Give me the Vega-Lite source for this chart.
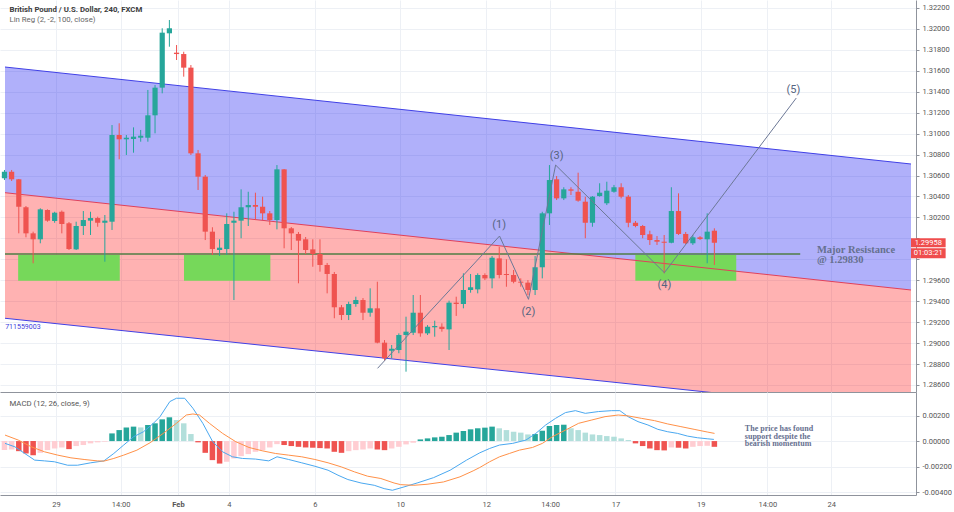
{
"$schema": "https://vega.github.io/schema/vega-lite/v6.json",
"padding": 0,
"autosize": {"type": "pad"},
"spacing": 0,
"config": {
 "view": {"stroke": null},
 "axis": {"labelFont": "Roboto", "labelFontSize": 7.5, "labelColor": "#555555", "gridColor": "#edf0f5", "gridWidth": 1, "domainColor": "#8f939c", "tickColor": "#8f939c", "labelOverlap": false}
},
"datasets": {
 "candles": [
{"k":0,"o":1.30573,"h":1.30653,"l":1.30557,"c":1.30636},
{"k":1,"o":1.30636,"h":1.30653,"l":1.30548,"c":1.30564},
{"k":2,"o":1.30564,"h":1.30567,"l":1.30048,"c":1.30302},
{"k":3,"o":1.30297,"h":1.30309,"l":1.30010,"c":1.30048},
{"k":4,"o":1.30048,"h":1.30064,"l":1.29762,"c":1.29991},
{"k":5,"o":1.29991,"h":1.30287,"l":1.29953,"c":1.30277},
{"k":6,"o":1.30271,"h":1.30277,"l":1.30159,"c":1.30169},
{"k":7,"o":1.30166,"h":1.30254,"l":1.30149,"c":1.30245},
{"k":8,"o":1.30254,"h":1.30266,"l":1.30048,"c":1.30137},
{"k":9,"o":1.30144,"h":1.30156,"l":1.29889,"c":1.29898},
{"k":10,"o":1.29895,"h":1.30159,"l":1.29889,"c":1.30118},
{"k":11,"o":1.30118,"h":1.30261,"l":1.30032,"c":1.30175},
{"k":12,"o":1.30169,"h":1.30254,"l":1.30032,"c":1.30194},
{"k":13,"o":1.30194,"h":1.30207,"l":1.30111,"c":1.30149},
{"k":14,"o":1.30149,"h":1.30223,"l":1.29777,"c":1.30169},
{"k":15,"o":1.30159,"h":1.31082,"l":1.30080,"c":1.30987},
{"k":16,"o":1.30987,"h":1.31099,"l":1.30755,"c":1.30946},
{"k":17,"o":1.30946,"h":1.30987,"l":1.30796,"c":1.30961},
{"k":18,"o":1.30949,"h":1.31060,"l":1.30818,"c":1.30971},
{"k":19,"o":1.30961,"h":1.31035,"l":1.30923,"c":1.30980},
{"k":20,"o":1.30961,"h":1.31417,"l":1.30923,"c":1.31175},
{"k":21,"o":1.31175,"h":1.31464,"l":1.31003,"c":1.31439},
{"k":22,"o":1.31439,"h":1.32006,"l":1.31385,"c":1.31964},
{"k":23,"o":1.31958,"h":1.32085,"l":1.31830,"c":1.32006},
{"k":24,"o":1.31773,"h":1.31846,"l":1.31703,"c":1.31760},
{"k":25,"o":1.31760,"h":1.31782,"l":1.31544,"c":1.31630},
{"k":26,"o":1.31630,"h":1.31655,"l":1.30796,"c":1.30812},
{"k":27,"o":1.30812,"h":1.30844,"l":1.30462,"c":1.30589},
{"k":28,"o":1.30589,"h":1.30605,"l":1.29984,"c":1.30064},
{"k":29,"o":1.30064,"h":1.30106,"l":1.29841,"c":1.29898},
{"k":30,"o":1.29889,"h":1.29991,"l":1.29832,"c":1.29911},
{"k":31,"o":1.29898,"h":1.30239,"l":1.29841,"c":1.30137},
{"k":32,"o":1.30149,"h":1.30254,"l":1.29411,"c":1.30169},
{"k":33,"o":1.30169,"h":1.30468,"l":1.30001,"c":1.30297},
{"k":34,"o":1.30297,"h":1.30445,"l":1.30118,"c":1.30318},
{"k":35,"o":1.30318,"h":1.30436,"l":1.30175,"c":1.30302},
{"k":36,"o":1.30302,"h":1.30398,"l":1.30175,"c":1.30239},
{"k":37,"o":1.30239,"h":1.30261,"l":1.30128,"c":1.30175},
{"k":38,"o":1.30175,"h":1.30700,"l":1.30086,"c":1.30659},
{"k":39,"o":1.30659,"h":1.30662,"l":1.29905,"c":1.30096},
{"k":40,"o":1.30096,"h":1.30108,"l":1.29889,"c":1.30048},
{"k":41,"o":1.30042,"h":1.30061,"l":1.29571,"c":1.29978},
{"k":42,"o":1.29991,"h":1.30013,"l":1.29851,"c":1.29889},
{"k":43,"o":1.29895,"h":1.29991,"l":1.29729,"c":1.29851},
{"k":44,"o":1.29851,"h":1.29991,"l":1.29682,"c":1.29746},
{"k":45,"o":1.29746,"h":1.29765,"l":1.29475,"c":1.29660},
{"k":46,"o":1.29660,"h":1.29679,"l":1.29237,"c":1.29342},
{"k":47,"o":1.29342,"h":1.29364,"l":1.29220,"c":1.29268},
{"k":48,"o":1.29268,"h":1.29395,"l":1.29220,"c":1.29373},
{"k":49,"o":1.29373,"h":1.29443,"l":1.29347,"c":1.29411},
{"k":50,"o":1.29411,"h":1.29430,"l":1.29220,"c":1.29290},
{"k":51,"o":1.29290,"h":1.29523,"l":1.29252,"c":1.29332},
{"k":52,"o":1.29332,"h":1.29586,"l":1.28998,"c":1.29004},
{"k":53,"o":1.29004,"h":1.29029,"l":1.28832,"c":1.28855},
{"k":54,"o":1.28927,"h":1.28982,"l":1.28855,"c":1.28946},
{"k":55,"o":1.28934,"h":1.29093,"l":1.28903,"c":1.29077},
{"k":56,"o":1.29077,"h":1.29252,"l":1.28727,"c":1.29109},
{"k":57,"o":1.29099,"h":1.29459,"l":1.29077,"c":1.29290},
{"k":58,"o":1.29290,"h":1.29459,"l":1.29061,"c":1.29093},
{"k":59,"o":1.29093,"h":1.29172,"l":1.29077,"c":1.29156},
{"k":60,"o":1.29151,"h":1.29214,"l":1.29061,"c":1.29163},
{"k":61,"o":1.29156,"h":1.29189,"l":1.29109,"c":1.29134},
{"k":62,"o":1.29131,"h":1.29405,"l":1.28934,"c":1.29386},
{"k":63,"o":1.29386,"h":1.29443,"l":1.29259,"c":1.29373},
{"k":64,"o":1.29373,"h":1.29666,"l":1.29332,"c":1.29507},
{"k":65,"o":1.29507,"h":1.29660,"l":1.29481,"c":1.29533},
{"k":66,"o":1.29513,"h":1.29666,"l":1.29475,"c":1.29650},
{"k":67,"o":1.29650,"h":1.29666,"l":1.29602,"c":1.29618},
{"k":68,"o":1.29618,"h":1.29831,"l":1.29523,"c":1.29815},
{"k":69,"o":1.29809,"h":1.29920,"l":1.29618,"c":1.29650},
{"k":70,"o":1.29660,"h":1.29800,"l":1.29538,"c":1.29650},
{"k":71,"o":1.29650,"h":1.29698,"l":1.29571,"c":1.29586},
{"k":72,"o":1.29586,"h":1.29618,"l":1.29538,"c":1.29577},
{"k":73,"o":1.29577,"h":1.29602,"l":1.29459,"c":1.29507},
{"k":74,"o":1.29507,"h":1.29831,"l":1.29459,"c":1.29724},
{"k":75,"o":1.29724,"h":1.30254,"l":1.29618,"c":1.30239},
{"k":76,"o":1.30239,"h":1.30700,"l":1.30128,"c":1.30557},
{"k":77,"o":1.30564,"h":1.30595,"l":1.30366,"c":1.30382},
{"k":78,"o":1.30382,"h":1.30488,"l":1.30366,"c":1.30468},
{"k":79,"o":1.30468,"h":1.30488,"l":1.30414,"c":1.30455},
{"k":80,"o":1.30445,"h":1.30627,"l":1.30350,"c":1.30360},
{"k":81,"o":1.30350,"h":1.30398,"l":1.30001,"c":1.30149},
{"k":82,"o":1.30149,"h":1.30404,"l":1.30111,"c":1.30398},
{"k":83,"o":1.30404,"h":1.30526,"l":1.30398,"c":1.30436},
{"k":84,"o":1.30335,"h":1.30541,"l":1.30318,"c":1.30455},
{"k":85,"o":1.30445,"h":1.30510,"l":1.30436,"c":1.30488},
{"k":86,"o":1.30488,"h":1.30526,"l":1.30382,"c":1.30398},
{"k":87,"o":1.30398,"h":1.30414,"l":1.30106,"c":1.30149},
{"k":88,"o":1.30149,"h":1.30166,"l":1.30106,"c":1.30118},
{"k":89,"o":1.30118,"h":1.30128,"l":1.30001,"c":1.30032},
{"k":90,"o":1.30039,"h":1.30073,"l":1.29937,"c":1.29984},
{"k":91,"o":1.29984,"h":1.30022,"l":1.29937,"c":1.29968},
{"k":92,"o":1.29968,"h":1.30032,"l":1.29666,"c":1.29958},
{"k":93,"o":1.29958,"h":1.30488,"l":1.29953,"c":1.30261},
{"k":94,"o":1.30261,"h":1.30430,"l":1.30032,"c":1.30042},
{"k":95,"o":1.30042,"h":1.30061,"l":1.29946,"c":1.29953},
{"k":96,"o":1.29953,"h":1.30032,"l":1.29937,"c":1.30010},
{"k":97,"o":1.30010,"h":1.30022,"l":1.29984,"c":1.29994},
{"k":98,"o":1.29991,"h":1.30239,"l":1.29762,"c":1.30064},
{"k":99,"o":1.30073,"h":1.30096,"l":1.29746,"c":1.29958}
 ],
 "chan": [
  {"k":0.076,"up":1.31636,"mid":1.30436,"lo":1.29237},
  {"k":126.42,"up":1.30710,"mid":1.29507,"lo":1.28328}
 ],
 "zones": [
  {"k1":1.91,"k2":16.08,"p1":1.29841,"p2":1.29596},
  {"k1":25.04,"k2":37.08,"p1":1.29841,"p2":1.29596},
  {"k1":87.98,"k2":102.05,"p1":1.29841,"p2":1.29596}
 ],
 "res": [{"k":0.076,"p":1.2985},{"k":110.97,"p":1.2985}],
 "wave": [
  {"k":52.03,"p":1.28759},
  {"k":69.04,"p":1.30022},
  {"k":73.08,"p":1.29418},
  {"k":76.86,"p":1.30700},
  {"k":92.03,"p":1.29672},
  {"k":110.42,"p":1.31340}
 ],
 "waveLabels": [
  {"k":69.0,"p":1.30127,"t":"(1)"},
  {"k":73.07,"p":1.29300,"t":"(2)"},
  {"k":77.0,"p":1.30785,"t":"(3)"},
  {"k":92.03,"p":1.29555,"t":"(4)"},
  {"k":110.01,"p":1.31417,"t":"(5)"}
 ],
 "hist": [
{"k":0,"h":-0.0007},{"k":1,"h":-0.00066},{"k":2,"h":-0.00079},{"k":3,"h":-0.00097},{"k":4,"h":-0.0011},
{"k":5,"h":-0.00092},{"k":6,"h":-0.00071},{"k":7,"h":-0.00058},{"k":8,"h":-0.0005},{"k":9,"h":-0.00063},
{"k":10,"h":-0.00039},{"k":11,"h":-0.00031},{"k":12,"h":-0.00018},{"k":13,"h":-0.0001},{"k":14,"h":-0.00005},
{"k":15,"h":0.0006},{"k":16,"h":0.00086},{"k":17,"h":0.00107},{"k":18,"h":0.00113},{"k":19,"h":0.00107},
{"k":20,"h":0.00126},{"k":21,"h":0.00139},{"k":22,"h":0.0017},{"k":23,"h":0.00186},{"k":24,"h":0.00165},
{"k":25,"h":0.00139},{"k":26,"h":0.00055},{"k":27,"h":-0.0001},{"k":28,"h":-0.00092},{"k":29,"h":-0.00149},
{"k":30,"h":-0.00176},{"k":31,"h":-0.00162},{"k":32,"h":-0.00136},{"k":33,"h":-0.00118},{"k":34,"h":-0.00102},
{"k":35,"h":-0.00084},{"k":36,"h":-0.00071},{"k":37,"h":-0.0005},{"k":38,"h":-0.00024},{"k":39,"h":-0.00031},
{"k":40,"h":-0.00039},{"k":41,"h":-0.00045},{"k":42,"h":-0.0005},{"k":43,"h":-0.00052},{"k":44,"h":-0.00055},
{"k":45,"h":-0.00058},{"k":46,"h":-0.00084},{"k":47,"h":-0.00092},{"k":48,"h":-0.00079},{"k":49,"h":-0.00071},
{"k":50,"h":-0.00066},{"k":51,"h":-0.00058},{"k":52,"h":-0.00066},{"k":53,"h":-0.00071},{"k":54,"h":-0.00058},
{"k":55,"h":-0.00045},{"k":56,"h":-0.00026},{"k":57,"h":-0.00013},{"k":58,"h":0.00013},{"k":59,"h":0.00021},
{"k":60,"h":0.00029},{"k":61,"h":0.00034},{"k":62,"h":0.00047},{"k":63,"h":0.00066},{"k":64,"h":0.00079},
{"k":65,"h":0.00092},{"k":66,"h":0.001},{"k":67,"h":0.00105},{"k":68,"h":0.00113},{"k":69,"h":0.001},
{"k":70,"h":0.00086},{"k":71,"h":0.00073},{"k":72,"h":0.00066},{"k":73,"h":0.00052},{"k":74,"h":0.00055},
{"k":75,"h":0.00081},{"k":76,"h":0.00118},{"k":77,"h":0.00126},{"k":78,"h":0.00128},{"k":79,"h":0.001},
{"k":80,"h":0.00086},{"k":81,"h":0.00066},{"k":82,"h":0.00052},{"k":83,"h":0.00047},{"k":84,"h":0.00039},
{"k":85,"h":0.00034},{"k":86,"h":0.00021},{"k":87,"h":0.00008},{"k":88,"h":-0.00018},{"k":89,"h":-0.00039},
{"k":90,"h":-0.00058},{"k":91,"h":-0.00071},{"k":92,"h":-0.00073},{"k":93,"h":-0.0005},{"k":94,"h":-0.00052},
{"k":95,"h":-0.00058},{"k":96,"h":-0.00045},{"k":97,"h":-0.00039},{"k":98,"h":-0.00037},{"k":99,"h":-0.00045}
 ],
 "macd": [
{"k":0.08,"m":-0.00018},{"k":1.46,"m":-0.00045},{"k":2.83,"m":-0.00097},{"k":4.21,"m":-0.00149},{"k":5.59,"m":-0.00155},
{"k":6.97,"m":-0.00162},{"k":8.81,"m":-0.00189},{"k":10.19,"m":-0.00189},{"k":12.03,"m":-0.0017},{"k":13.87,"m":-0.00155},
{"k":15.25,"m":-0.00097},{"k":16.63,"m":-0.00031},{"k":18.01,"m":0.00034},{"k":19.39,"m":0.00073},{"k":20.77,"m":0.00139},
{"k":21.69,"m":0.00191},{"k":23.06,"m":0.00309},{"k":23.98,"m":0.00335},{"k":25.13,"m":0.00335},{"k":26.28,"m":0.00257},
{"k":27.66,"m":0.00139},{"k":29.04,"m":-0.00005},{"k":30.42,"m":-0.00084},{"k":31.8,"m":-0.00123},{"k":33.18,"m":-0.00136},
{"k":35.02,"m":-0.00141},{"k":36.86,"m":-0.00155},{"k":38.01,"m":-0.00123},{"k":39.62,"m":-0.00144},{"k":41.45,"m":-0.0017},
{"k":43.29,"m":-0.00197},{"k":45.13,"m":-0.00228},{"k":46.51,"m":-0.00267},{"k":47.89,"m":-0.00301},{"k":49.73,"m":-0.00328},
{"k":51.57,"m":-0.00346},{"k":52.95,"m":-0.00372},{"k":54.1,"m":-0.00385},{"k":55.71,"m":-0.00359},{"k":57.55,"m":-0.00328},
{"k":59.85,"m":-0.00286},{"k":62.15,"m":-0.00228},{"k":64.44,"m":-0.00149},{"k":66.28,"m":-0.00092},{"k":67.66,"m":-0.00058},
{"k":69.04,"m":-0.00031},{"k":70.88,"m":-0.00018},{"k":72.72,"m":0.00008},{"k":74.1,"m":0.0006},{"k":75.48,"m":0.00126},
{"k":76.86,"m":0.00178},{"k":78.24,"m":0.00223},{"k":79.62,"m":0.00238},{"k":81.0,"m":0.00217},{"k":82.84,"m":0.00231},
{"k":84.67,"m":0.00238},{"k":85.82,"m":0.00238},{"k":86.97,"m":0.00191},{"k":88.35,"m":0.00152},{"k":89.73,"m":0.00126},
{"k":91.11,"m":0.00092},{"k":92.49,"m":0.00073},{"k":93.87,"m":0.0006},{"k":95.25,"m":0.00039},{"k":96.63,"m":0.00026},
{"k":98.0,"m":0.00018},{"k":98.93,"m":0.00013}
 ],
 "sig": [
{"k":0.08,"s":0.00047},{"k":1.92,"s":0.00008},{"k":3.75,"s":-0.00045},{"k":5.59,"s":-0.00084},{"k":7.43,"s":-0.0011},
{"k":9.27,"s":-0.00131},{"k":11.11,"s":-0.00144},{"k":12.95,"s":-0.00155},{"k":13.87,"s":-0.00157},{"k":15.25,"s":-0.00136},
{"k":16.63,"s":-0.0011},{"k":18.47,"s":-0.00071},{"k":20.31,"s":-0.00013},{"k":22.14,"s":0.0006},{"k":23.98,"s":0.00139},
{"k":25.36,"s":0.00204},{"k":26.28,"s":0.00212},{"k":27.2,"s":0.00204},{"k":28.58,"s":0.00139},{"k":30.42,"s":0.0006},
{"k":32.26,"s":-0.00005},{"k":34.1,"s":-0.0005},{"k":35.94,"s":-0.00076},{"k":37.78,"s":-0.00097},{"k":39.62,"s":-0.0011},
{"k":41.45,"s":-0.00123},{"k":43.29,"s":-0.00144},{"k":45.13,"s":-0.0017},{"k":46.97,"s":-0.00202},{"k":48.81,"s":-0.00241},
{"k":50.65,"s":-0.00275},{"k":52.49,"s":-0.00293},{"k":54.33,"s":-0.00328},{"k":55.25,"s":-0.00341},{"k":57.09,"s":-0.00346},
{"k":58.93,"s":-0.00338},{"k":61.22,"s":-0.0032},{"k":63.52,"s":-0.0028},{"k":65.36,"s":-0.00233},{"k":66.28,"s":-0.00207},
{"k":67.66,"s":-0.00162},{"k":69.04,"s":-0.00123},{"k":70.42,"s":-0.00097},{"k":71.8,"s":-0.00071},{"k":73.64,"s":-0.0005},
{"k":75.02,"s":-0.00018},{"k":76.4,"s":0.00034},{"k":78.24,"s":0.00086},{"k":80.07,"s":0.00139},{"k":81.91,"s":0.00165},
{"k":83.75,"s":0.00191},{"k":85.59,"s":0.00204},{"k":86.97,"s":0.00197},{"k":88.81,"s":0.00178},{"k":90.65,"s":0.0016},
{"k":92.49,"s":0.00134},{"k":94.33,"s":0.00113},{"k":96.17,"s":0.00092},{"k":98.0,"s":0.00071},{"k":99.02,"s":0.0006}
 ]
},
"vconcat": [
 {
  "width": 916, "height": 392,
  "layer": [
   {"data": {"name": "chan"},
    "mark": {"type": "area", "fill": "#1818f0", "opacity": 0.34, "clip": true},
    "encoding": {
     "x": {"field": "k", "type": "quantitative", "title": null,
       "scale": {"domain": [0.076, 126.42], "nice": false, "zero": false},
       "axis": {"values": [7.2,16.2,24.2,31.3,43.3,55.2,67.2,76.1,85.2,97.1,106.4,115.3], "tickCount": 100, "labels": false, "ticks": false, "domain": true, "grid": true}},
     "y": {"field": "up", "type": "quantitative", "title": null,
       "scale": {"domain": [1.28533, 1.32276], "nice": false, "zero": false},
       "axis": {"orient": "right", "values": [1.286,1.288,1.29,1.292,1.294,1.296,1.298,1.3,1.302,1.304,1.306,1.308,1.31,1.312,1.314,1.316,1.318,1.32,1.322],
         "tickCount": 100,
         "labelExpr": "abs(datum.value - 1.298) < 0.0001 || abs(datum.value - 1.3) < 0.0001 ? '' : format(datum.value, '.5f')",
         "labelOverlap": false,
         "tickSize": 3, "labelPadding": 3, "grid": true}},
     "y2": {"field": "mid"}
    }},
   {"data": {"name": "chan"},
    "mark": {"type": "area", "fill": "#ff0000", "opacity": 0.3, "clip": true},
    "encoding": {
     "x": {"field": "k", "type": "quantitative", "title": null},
     "y": {"field": "mid", "type": "quantitative", "title": null},
     "y2": {"field": "lo"}
    }},
   {"data": {"name": "zones"},
    "mark": {"type": "rect", "color": "#76d85a"},
    "encoding": {
     "x": {"field": "k1", "type": "quantitative", "title": null},
     "x2": {"field": "k2"},
     "y": {"field": "p1", "type": "quantitative", "title": null},
     "y2": {"field": "p2"}
    }},
   {"data": {"name": "chan"},
    "mark": {"type": "line", "color": "#4040e6", "strokeWidth": 1, "clip": true},
    "encoding": {"x": {"field": "k", "type": "quantitative", "title": null}, "y": {"field": "up", "type": "quantitative", "title": null}}},
   {"data": {"name": "chan"},
    "mark": {"type": "line", "color": "#e0405a", "strokeWidth": 1, "clip": true},
    "encoding": {"x": {"field": "k", "type": "quantitative", "title": null}, "y": {"field": "mid", "type": "quantitative", "title": null}}},
   {"data": {"name": "chan"},
    "mark": {"type": "line", "color": "#4040e6", "strokeWidth": 1, "clip": true},
    "encoding": {"x": {"field": "k", "type": "quantitative", "title": null}, "y": {"field": "lo", "type": "quantitative", "title": null}}},
   {"data": {"name": "res"},
    "mark": {"type": "line", "color": "#4f7d45", "strokeWidth": 1.5},
    "encoding": {"x": {"field": "k", "type": "quantitative", "title": null}, "y": {"field": "p", "type": "quantitative", "title": null}}},
   {"data": {"name": "candles"},
    "mark": {"type": "rule", "strokeWidth": 1, "clip": true},
    "encoding": {
     "x": {"field": "k", "type": "quantitative", "title": null},
     "y": {"field": "l", "type": "quantitative", "title": null},
     "y2": {"field": "h"},
     "color": {"condition": {"test": "datum.c >= datum.o", "value": "#26a69a"}, "value": "#ef5350"}
    }},
   {"data": {"name": "candles"},
    "mark": {"type": "bar", "width": 5.2, "clip": true, "minBandSize": 1.2},
    "encoding": {
     "x": {"field": "k", "type": "quantitative", "title": null},
     "y": {"field": "o", "type": "quantitative", "title": null},
     "y2": {"field": "c"},
     "color": {"condition": {"test": "datum.c >= datum.o", "value": "#26a69a"}, "value": "#ef5350"}
    }},
   {"data": {"name": "wave"},
    "mark": {"type": "line", "color": "#6c7896", "strokeWidth": 1},
    "encoding": {"x": {"field": "k", "type": "quantitative", "title": null}, "y": {"field": "p", "type": "quantitative", "title": null}}},
   {"data": {"name": "waveLabels"},
    "mark": {"type": "text", "font": "Roboto", "fontSize": 11, "color": "#56647f", "align": "center", "baseline": "middle"},
    "encoding": {"x": {"field": "k", "type": "quantitative", "title": null}, "y": {"field": "p", "type": "quantitative", "title": null}, "text": {"field": "t"}}},
   {"data": {"values": [{"k": 0.7, "p": 1.32181, "t": "British Pound / U.S. Dollar, 240, FXCM"}]},
    "mark": {"type": "text", "font": "Roboto", "fontSize": 7.8, "fontWeight": "bold", "color": "#3c3c3c", "align": "left", "baseline": "middle"},
    "encoding": {"x": {"field": "k", "type": "quantitative", "title": null}, "y": {"field": "p", "type": "quantitative", "title": null}, "text": {"field": "t"}}},
   {"data": {"values": [{"k": 0.7, "p": 1.32082, "t": "Lin Reg (2, -2, 100, close)"}]},
    "mark": {"type": "text", "font": "Roboto", "fontSize": 7.8, "color": "#666666", "align": "left", "baseline": "middle"},
    "encoding": {"x": {"field": "k", "type": "quantitative", "title": null}, "y": {"field": "p", "type": "quantitative", "title": null}, "text": {"field": "t"}}},
   {"data": {"values": [{"k": 0.1, "p": 1.29151, "t": "711559003"}]},
    "mark": {"type": "text", "font": "Roboto", "fontSize": 7, "color": "#3c3cdc", "align": "left", "baseline": "middle"},
    "encoding": {"x": {"field": "k", "type": "quantitative", "title": null}, "y": {"field": "p", "type": "quantitative", "title": null}, "text": {"field": "t"}}},
   {"data": {"values": [{"k": 113.3, "p": 1.29937, "t": "Major Resistance\n@ 1.29830"}]},
    "mark": {"type": "text", "font": "Liberation Serif", "fontSize": 10.5, "fontWeight": "bold", "lineHeight": 10.5, "lineBreak": "\n", "color": "#66708f", "align": "left", "baseline": "top"},
    "encoding": {"x": {"field": "k", "type": "quantitative", "title": null}, "y": {"field": "p", "type": "quantitative", "title": null}, "text": {"field": "t"}}},
   {"data": {"values": [{"k1": 126.42, "k2": 131.25, "p1": 1.30001, "p2": 1.29915}, {"k1": 126.42, "k2": 131.25, "p1": 1.29905, "p2": 1.2981}]},
    "mark": {"type": "rect", "color": "#ef4d4d"},
    "encoding": {"x": {"field": "k1", "type": "quantitative", "title": null}, "x2": {"field": "k2"}, "y": {"field": "p1", "type": "quantitative", "title": null}, "y2": {"field": "p2"}}},
   {"data": {"values": [{"k": 128.83, "p": 1.29958, "t": "1.29958"}, {"k": 128.83, "p": 1.29857, "t": "01:03:21"}]},
    "mark": {"type": "text", "font": "Roboto", "fontSize": 7.5, "color": "#ffffff", "align": "center", "baseline": "middle"},
    "encoding": {"x": {"field": "k", "type": "quantitative", "title": null}, "y": {"field": "p", "type": "quantitative", "title": null}, "text": {"field": "t"}}}
  ]
 },
 {
  "width": 916, "height": 103,
  "layer": [
   {"data": {"name": "hist"},
    "transform": [{"window": [{"op": "lag", "field": "h", "as": "prev"}], "sort": [{"field": "k"}]}],
    "mark": {"type": "bar", "width": 5.5, "clip": true},
    "encoding": {
     "x": {"field": "k", "type": "quantitative", "title": null,
       "scale": {"domain": [0.076, 126.42], "nice": false, "zero": false},
       "axis": {"values": [7.2,16.2,24.2,31.3,43.3,55.2,67.2,76.1,85.2,97.1,106.4,115.3], "tickCount": 100,
         "labelExpr": "['29','14:00','Feb','4','6','10','12','14:00','17','19','14:00','24'][indexof([7.2,16.2,24.2,31.3,43.3,55.2,67.2,76.1,85.2,97.1,106.4,115.3], datum.value)]",
         "labelFontWeight": {"condition": {"test": "datum.value == 24.2", "value": "bold"}, "value": "normal"},
         "ticks": false, "domain": true, "grid": true, "labelPadding": 5}},
     "y": {"field": "h", "type": "quantitative", "title": null,
       "scale": {"domain": [-0.00422, 0.00384], "nice": false, "zero": false},
       "axis": {"orient": "right", "values": [0.002, 0, -0.002, -0.004], "tickCount": 100,
         "labelExpr": "replace(format(datum.value, '.5f'), '\u2212', '-')",
         "labelOverlap": false, "tickSize": 3, "labelPadding": 3, "grid": true}},
     "y2": {"datum": 0},
     "color": {"condition": [
        {"test": "datum.h >= 0 && (datum.prev == null || datum.h >= datum.prev)", "value": "#26a69a"},
        {"test": "datum.h >= 0", "value": "#b2dfdb"},
        {"test": "datum.prev != null && datum.h < datum.prev", "value": "#ef5350"}],
       "value": "#ffcdd2"}
    }},
   {"data": {"name": "macd"},
    "mark": {"type": "line", "color": "#4aa8f0", "strokeWidth": 1},
    "encoding": {"x": {"field": "k", "type": "quantitative", "title": null}, "y": {"field": "m", "type": "quantitative", "title": null}}},
   {"data": {"name": "sig"},
    "mark": {"type": "line", "color": "#ff9148", "strokeWidth": 1},
    "encoding": {"x": {"field": "k", "type": "quantitative", "title": null}, "y": {"field": "s", "type": "quantitative", "title": null}}},
   {"data": {"values": [{"k": 0.7, "v": 0.00294, "t": "MACD (12, 26, close, 9)"}]},
    "mark": {"type": "text", "font": "Roboto", "fontSize": 7.8, "color": "#555555", "align": "left", "baseline": "middle"},
    "encoding": {"x": {"field": "k", "type": "quantitative", "title": null}, "y": {"field": "v", "type": "quantitative", "title": null}, "text": {"field": "t"}}},
   {"data": {"values": [{"k": 103.25, "v": 0.00124, "t": "The price has found\nsupport despite the\nbearish momentum"}]},
    "mark": {"type": "text", "font": "Liberation Serif", "fontSize": 8, "fontWeight": "bold", "lineHeight": 7.6, "lineBreak": "\n", "color": "#66708f", "align": "left", "baseline": "top"},
    "encoding": {"x": {"field": "k", "type": "quantitative", "title": null}, "y": {"field": "v", "type": "quantitative", "title": null}, "text": {"field": "t"}}}
  ]
 }
]
}
